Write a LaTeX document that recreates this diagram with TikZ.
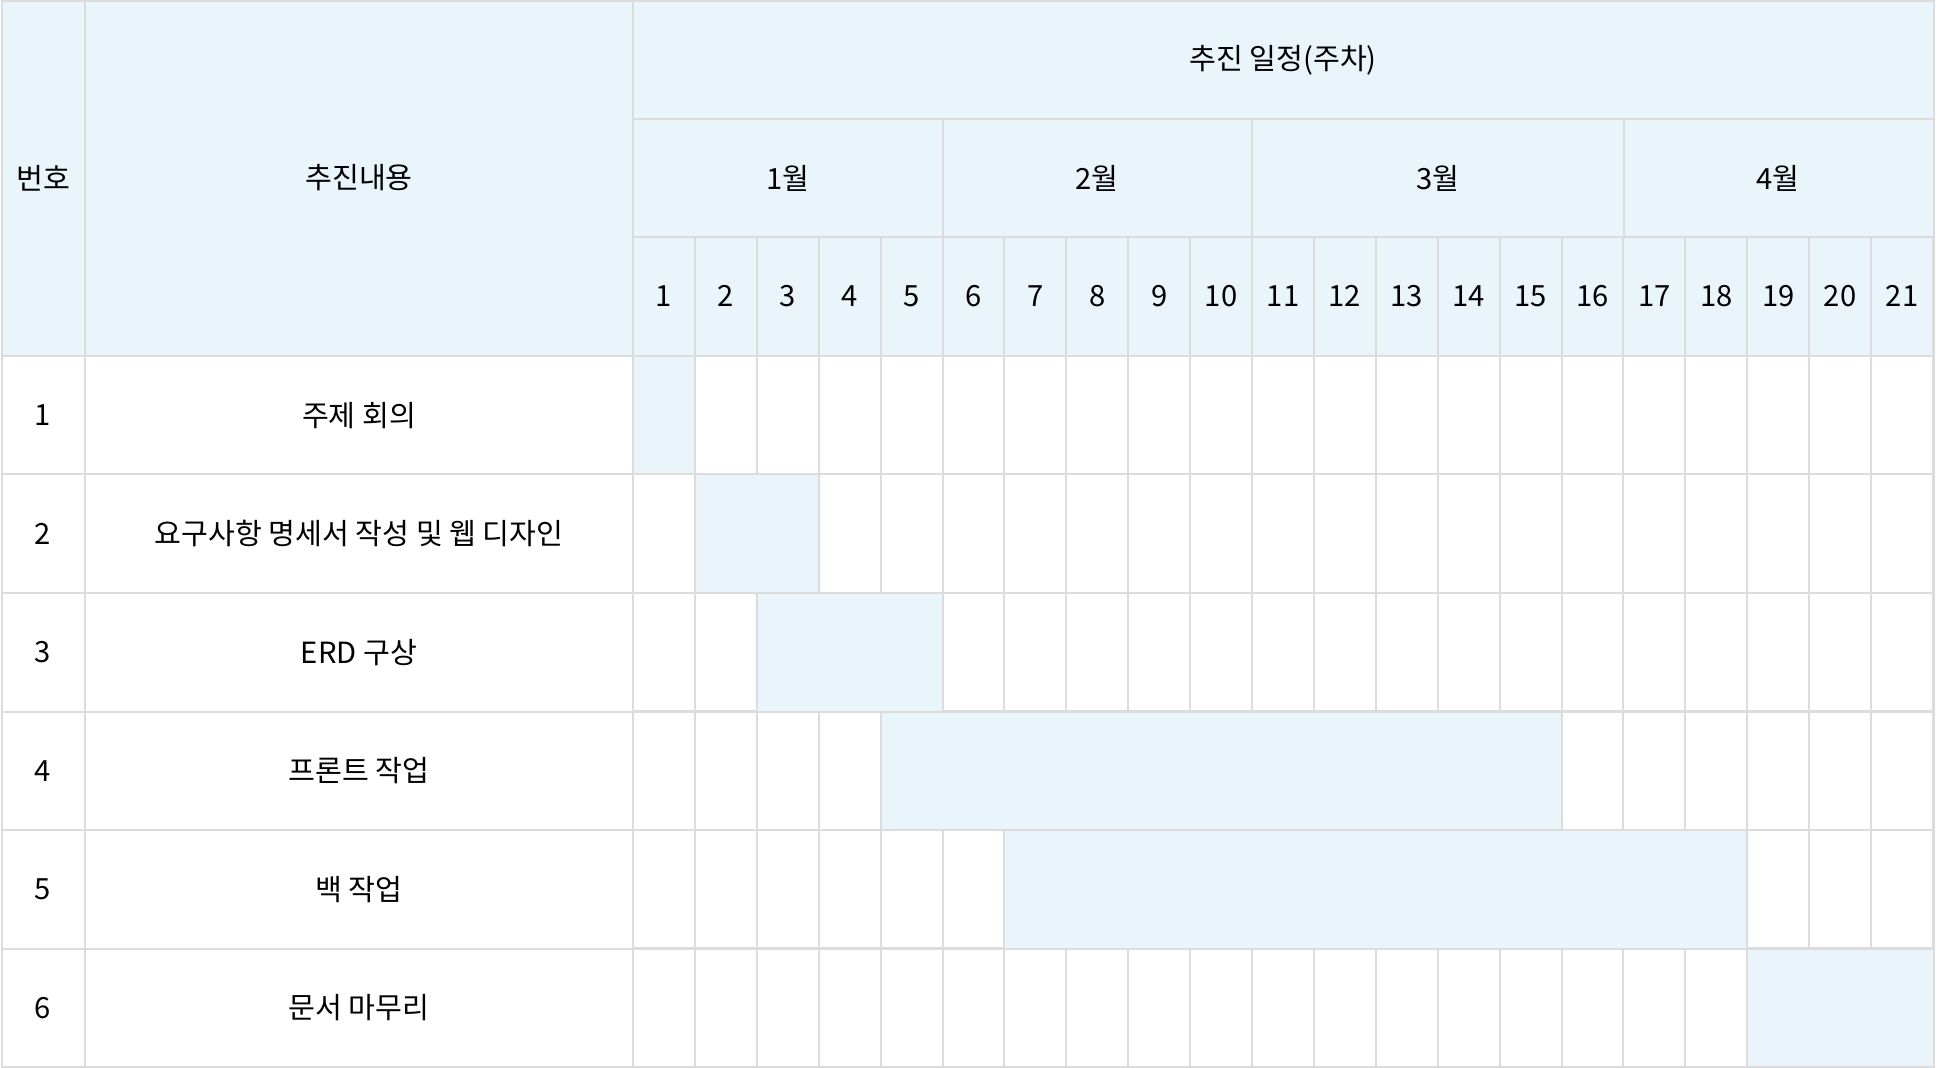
\documentclass[tikz,border=0pt]{standalone}
\usepackage{fontspec}
\setmainfont{Noto Sans CJK KR}
\usetikzlibrary{positioning}

\definecolor{planblue}{HTML}{E9F4FB}
\definecolor{gridgray}{HTML}{DCDCDC}

\tikzset{
  line/.style={draw=gridgray, line width=1pt},
  bar/.style={fill=planblue, draw=gridgray, line width=1pt},
  label/.style={inner sep=0pt, font=\fontsize{14.6}{17}\selectfont}
}

\begin{document}
\begin{tikzpicture}[x=0.5pt, y=-0.5pt]
      \useasboundingbox (0,0) rectangle (1936,1068);

      % header
      \fill[planblue] (1.5,1.5) rectangle (1934,356);

      % weeks and rows
      \begin{scope}[shift={(633,237)}]
        \draw[line, xstep=30.952pt, ystep=59.286pt] (0,0) grid (1301,830);
      \end{scope}
      \draw[line] (1.5,356) -- (1934,356);
      \draw[line] (1.5,474.5) -- (1934,474.5);
      \draw[line] (1.5,593) -- (1934,593);
      \draw[line] (1.5,711.5) -- (1934,711.5);
      \draw[line] (1.5,830) -- (1934,830);
      \draw[line] (1.5,948.5) -- (1934,948.5);
      \draw[line] (85,1.5) -- (85,1066.5);
      \draw[line] (633,1.5) -- (633,1066.5);
      \draw[line] (633,119) -- (1934,119);
      \draw[line] (633,237) -- (1934,237);

      % months
      \draw[line] (942.5,119) -- (942.5,237);
      \draw[line] (1252,119) -- (1252,237);
      \draw[line] (1623.5,119) -- (1623.5,237);

      % bars
      \draw[bar] (633,356) rectangle (694.9,474.5);
      \draw[bar] (694.9,474.5) rectangle (818.7,593);
      \draw[bar] (756.8,593) rectangle (942.5,711.5);
      \draw[bar] (880.6,711.5) rectangle (1561.6,830);
      \draw[bar] (1004.4,830) rectangle (1747.3,948.5);
      \draw[bar] (1747.3,948.5) rectangle (1934,1066.5);

      \draw[line] (1.5,1.5) rectangle (1934,1066.5);

      % header texts
      \node[label] (no) at (43,178) {번호};
      \node[label] (task) at (359,178) {추진내용};
      \node[label] (plan) at (1283,60) {추진 일정(주차)};
      \node[label] (m1) at (787.8,178) {1월};
      \node[label] (m2) at (1097.3,178) {2월};
      \node[label] (m3) at (1437.8,178) {3월};
      \node[label] (m4) at (1778.2,178) {4월};

      \node[label] (w1) at (664,296) {1};
      \node[label] (w2) at (725.9,296) {2};
      \node[label] (w3) at (787.8,296) {3};
      \node[label] (w4) at (849.7,296) {4};
      \node[label] (w5) at (911.6,296) {5};
      \node[label] (w6) at (973.5,296) {6};
      \node[label] (w7) at (1035.4,296) {7};
      \node[label] (w8) at (1097.3,296) {8};
      \node[label] (w9) at (1159.2,296) {9};
      \node[label] (w10) at (1221.1,296) {10};
      \node[label] (w11) at (1283,296) {11};
      \node[label] (w12) at (1344.9,296) {12};
      \node[label] (w13) at (1406.8,296) {13};
      \node[label] (w14) at (1468.7,296) {14};
      \node[label] (w15) at (1530.6,296) {15};
      \node[label] (w16) at (1592.5,296) {16};
      \node[label] (w17) at (1654.4,296) {17};
      \node[label] (w18) at (1716.3,296) {18};
      \node[label] (w19) at (1778.2,296) {19};
      \node[label] (w20) at (1840.1,296) {20};
      \node[label] (w21) at (1902,296) {21};

      % rows
      \node[label] (n1) at (43,415.3) {1};
      \node[label] (n2) at (43,533.8) {2};
      \node[label] (n3) at (43,652.3) {3};
      \node[label] (n4) at (43,770.8) {4};
      \node[label] (n5) at (43,889.3) {5};
      \node[label] (n6) at (43,1007.8) {6};

      \node[label] (t1) at (359,415.3) {주제 회의};
      \node[label] (t2) at (359,533.8) {요구사항 명세서 작성 및 웹 디자인};
      \node[label] (t3) at (359,652.3) {ERD 구상};
      \node[label] (t4) at (359,770.8) {프론트 작업};
      \node[label] (t5) at (359,889.3) {백 작업};
      \node[label] (t6) at (359,1007.8) {문서 마무리};
\end{tikzpicture}
\end{document}
